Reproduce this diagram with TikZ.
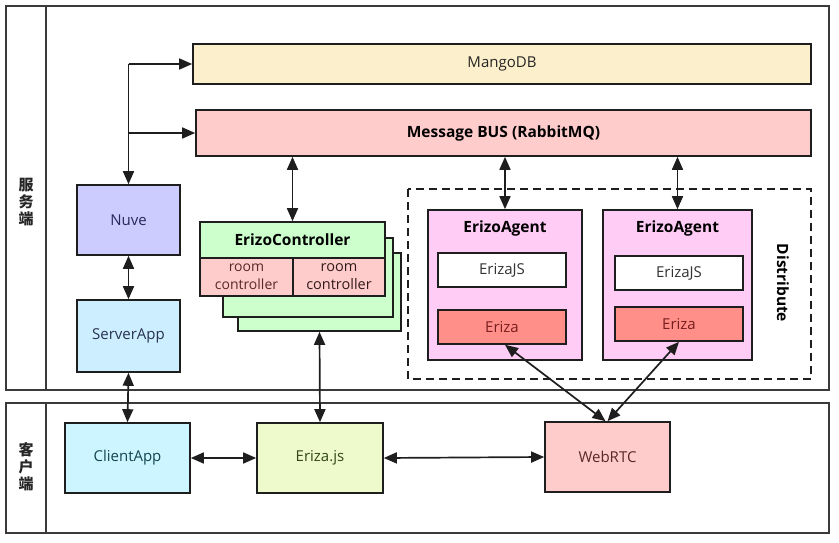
\documentclass[tikz,border=0pt]{standalone}
\usepackage{fontspec}
\setmainfont{Open Sans}
\newfontfamily\cjk{Noto Sans CJK SC}
\usetikzlibrary{arrows.meta,calc}
\definecolor{cMango}{HTML}{FCEFCB}
\definecolor{cBus}{HTML}{FFCCCC}
\definecolor{cNuve}{HTML}{CCCCFF}
\definecolor{cServer}{HTML}{CCEEFF}
\definecolor{cGreen}{HTML}{CCFFCC}
\definecolor{cRoom}{HTML}{FFCCCC}
\definecolor{cAgent}{HTML}{FFCCF5}
\definecolor{cEriza}{HTML}{FF8F88}
\definecolor{cClient}{HTML}{CCF5FF}
\definecolor{cErizajs}{HTML}{EEFACC}
\definecolor{cWeb}{HTML}{FFCCCC}
\definecolor{cLine}{HTML}{1E1E1E}
\definecolor{cFrame}{HTML}{3A3A3A}
\tikzset{
  box/.style={draw=cLine, line width=1.6pt, rectangle, inner sep=0pt, align=center, font=\fontsize{15}{16}\selectfont},
  bold/.style={font=\fontsize{15.5}{17}\selectfont\bfseries},
  frame/.style={draw=cFrame, line width=1.6pt},
  arr/.style={line width=1.7pt, draw=cLine, -{Triangle[length=13pt,width=11pt]}},
  biarr/.style={line width=1.7pt, draw=cLine, {Triangle[length=13pt,width=11pt]}-{Triangle[length=13pt,width=11pt]}},
}
\begin{document}
\begin{tikzpicture}[x=1pt,y=-1pt]
\useasboundingbox (0,0) rectangle (839,543);
% frames
\draw[frame] (6,6) rectangle (829,390);
\draw[frame] (46,6) -- (46,390);
\draw[frame] (6,403) rectangle (829,533);
\draw[frame] (46,403) -- (46,533);
\node[font=\cjk\fontsize{15}{17}\selectfont\bfseries, text=black!85, align=center, inner sep=0pt] (lserver) at (26,202) {服\\务\\端};
\node[font=\cjk\fontsize{15}{17}\selectfont\bfseries, text=black!85, align=center, inner sep=0pt] (lclient) at (26,467) {客\\户\\端};

% top boxes
\node[box, fill=cMango, minimum width=618, minimum height=40, text=black!85] (mango) at (502,64) {MangoDB};
\node[box, fill=cBus, minimum width=615, minimum height=46, bold] (bus) at (503.5,133) {Message BUS (RabbitMQ)};
\node[box, fill=cNuve, minimum width=103, minimum height=70, text={rgb,255:red,40;green,40;blue,90}] (nuve) at (128.5,220) {Nuve};
\node[box, fill=cServer, minimum width=103, minimum height=72, text={rgb,255:red,40;green,50;blue,80}] (server) at (128.5,336) {ServerApp};

% ErizoController stack
\node[box, fill=cGreen, minimum width=163, minimum height=78] (ec3) at (319.5,292) {};
\node[box, fill=cGreen, minimum width=170, minimum height=79] (ec2) at (308,277.5) {};
\node[box, fill=cGreen, minimum width=185, minimum height=36, bold] (ech) at (292.5,240) {ErizoController};
\node[box, fill=cRoom, minimum width=93, minimum height=38, text={rgb,255:red,90;green,40;blue,40}, font=\fontsize{14}{18}\selectfont] (rc1) at (246.5,277) {room\\controller};
\node[box, fill=cRoom, minimum width=92, minimum height=38, text={rgb,255:red,50;green,25;blue,25}, font=\fontsize{14.5}{18}\selectfont] (rc2) at (339,277) {room\\controller};

% Distribute
\draw[line width=1.6pt, draw=cLine, dash pattern=on 8pt off 5pt] (408,189) rectangle (811,379);
\node[rotate=-90, bold, inner sep=0pt] (dist) at (783,283) {Distribute};

\node[box, fill=cAgent, minimum width=154, minimum height=150] (ag1) at (505,285) {};
\node[bold, inner sep=0pt] (ag1t) at (505,228) {ErizoAgent};
\node[box, fill=white, minimum width=128, minimum height=34, text=black!80] (ejs1) at (502,270) {ErizaJS};
\node[box, fill=cEriza, minimum width=128, minimum height=34, text={rgb,255:red,120;green,30;blue,30}] (er1) at (502,327) {Eriza};

\node[box, fill=cAgent, minimum width=149, minimum height=150] (ag2) at (677.5,285) {};
\node[bold, inner sep=0pt] (ag2t) at (677.5,228) {ErizoAgent};
\node[box, fill=white, minimum width=128, minimum height=34, text=black!80] (ejs2) at (679,273) {ErizaJS};
\node[box, fill=cEriza, minimum width=128, minimum height=34, text={rgb,255:red,120;green,30;blue,30}] (er2) at (679,324) {Eriza};

% bottom
\node[box, fill=cClient, minimum width=125, minimum height=70, text={rgb,255:red,20;green,70;blue,80}] (client) at (127.5,458) {ClientApp};
\node[box, fill=cErizajs, minimum width=126, minimum height=70, text={rgb,255:red,50;green,70;blue,20}] (ejs) at (320,458) {Eriza.js};
\node[box, fill=cWeb, minimum width=125, minimum height=70, text={rgb,255:red,90;green,40;blue,40}] (web) at (607.5,457) {WebRTC};

% connectors
\coordinate (j1) at (nuve.north |- mango.west);
\coordinate (j2) at (nuve.north |- bus.west);
\draw[arr] (j1) -- (mango.west);
\draw[arr] (j2) -- (bus.west);
\draw[arr] (j1) -- (nuve.north);
\draw[biarr] (nuve.south) -- (server.north);
\draw[biarr] (server.south) -- (client.north);
\draw[biarr] (ech.north |- bus.south) -- (ech.north);
\draw[biarr] (ag1.north |- bus.south) -- (ag1.north);
\draw[biarr] (ag2.north |- bus.south) -- (ag2.north);
\draw[biarr] (ec3.south) -- (ejs.north);
\draw[biarr] (client.east) -- (ejs.west);
\draw[biarr] (ejs.east) -- (web.west);
\draw[biarr] ($(er1.south)+(3,0)$) -- ($(web.north)+(-2,0)$);
\draw[biarr] (er2.south) -- ($(web.north)+(0,0)$);
\end{tikzpicture}
\end{document}
